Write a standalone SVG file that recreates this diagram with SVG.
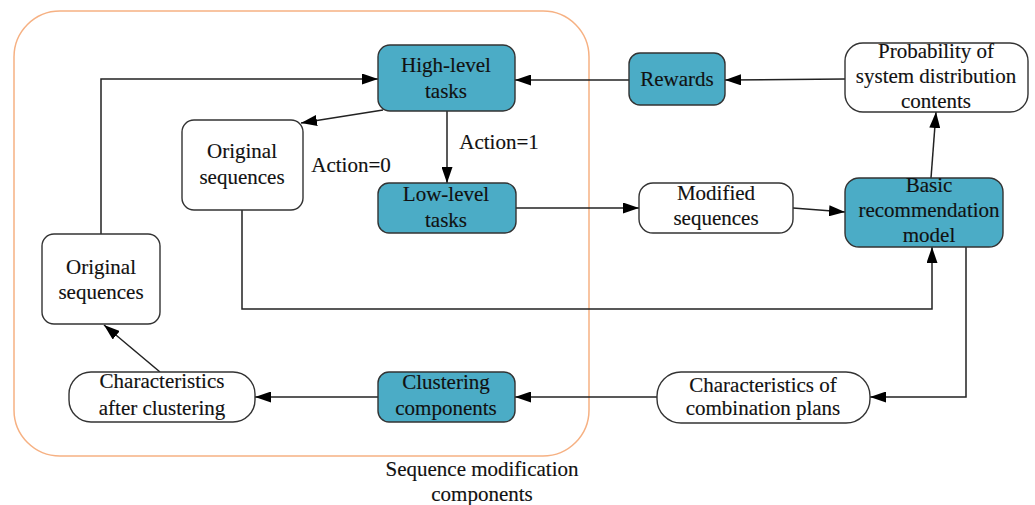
<svg xmlns="http://www.w3.org/2000/svg" width="1035" height="505" viewBox="0 0 1035 505" font-family="'Liberation Serif', 'DejaVu Serif', serif">
<defs>
<marker id="ah" viewBox="0 0 16 11" refX="16" refY="5.5" markerWidth="16" markerHeight="11" markerUnits="userSpaceOnUse" orient="auto">
<path d="M0,0 L16,5.5 L0,11 Z" fill="#000"/>
</marker>
<style>
.n rect{stroke:#333;stroke-width:1.4}
.t{fill:#4BACC6}
.w{fill:#fff}
text{font-family:'Liberation Serif','DejaVu Serif',serif;font-size:21px;fill:#111;text-anchor:middle;stroke:#111;stroke-width:0.15}
.c path{fill:none;stroke:#222;stroke-width:1.5;marker-end:url(#ah)}
</style>
</defs>
<rect width="1035" height="505" fill="#fff"/>
<g id="container">
<rect x="14" y="11" width="575" height="445" rx="46" fill="none" stroke="#F6B183" stroke-width="1.5"/>
<text x="482" y="476">Sequence modification</text>
<text x="482" y="501">components</text>
</g>
<g class="c" id="connectors">
<path d="M101,234 V79 H378"/>
<path d="M629,80 H515"/>
<path d="M845,79 L725,80"/>
<path d="M383,110 L301,123"/>
<path d="M447,111 V183"/>
<path d="M516,208 H639"/>
<path d="M793,208 L845,212"/>
<path d="M931,178 L936,112"/>
<path d="M242,210 V309 H932 V247"/>
<path d="M966,247 V397 H870"/>
<path d="M657,397 H515"/>
<path d="M378,397 H255"/>
<path d="M160,372 L104,325"/>
</g>
<g id="high" class="n"><rect class="t" x="378" y="45" width="137" height="66" rx="12"/><text x="446" y="72">High-level</text><text x="446" y="98">tasks</text></g>
<g id="rewards" class="n"><rect class="t" x="629" y="53" width="96" height="52" rx="11"/><text x="677" y="86">Rewards</text></g>
<g id="prob" class="n"><rect class="w" x="845" y="43" width="183" height="69" rx="18"/><text x="936" y="58">Probability of</text><text x="936" y="83">system distribution</text><text x="936" y="108">contents</text></g>
<g id="orig1" class="n"><rect class="w" x="182" y="120" width="121" height="90" rx="12"/><text x="242" y="158">Original</text><text x="242" y="184">sequences</text></g>
<g id="act0"><text x="351" y="172">Action=0</text></g>
<g id="act1"><text x="499" y="149">Action=1</text></g>
<g id="low" class="n"><rect class="t" x="378" y="183" width="138" height="50" rx="11"/><text x="446" y="201">Low-level</text><text x="446" y="227">tasks</text></g>
<g id="mod" class="n"><rect class="w" x="639" y="183" width="154" height="50" rx="14"/><text x="716" y="200">Modified</text><text x="716" y="225">sequences</text></g>
<g id="basic" class="n"><rect class="t" x="845" y="178" width="158" height="69" rx="14"/><text x="929" y="192">Basic</text><text x="929" y="217">recommendation</text><text x="929" y="242">model</text></g>
<g id="orig2" class="n"><rect class="w" x="42" y="234" width="118" height="90" rx="12"/><text x="101" y="274">Original</text><text x="101" y="299">sequences</text></g>
<g id="charAfter" class="n"><rect class="w" x="69" y="372" width="186" height="50" rx="22"/><text x="162" y="388">Characteristics</text><text x="162" y="415">after clustering</text></g>
<g id="clust" class="n"><rect class="t" x="378" y="372" width="137" height="50" rx="11"/><text x="446" y="389">Clustering</text><text x="446" y="415">components</text></g>
<g id="charComb" class="n"><rect class="w" x="657" y="372" width="213" height="51" rx="24"/><text x="763" y="392">Characteristics of</text><text x="763" y="415">combination plans</text></g>
</svg>
